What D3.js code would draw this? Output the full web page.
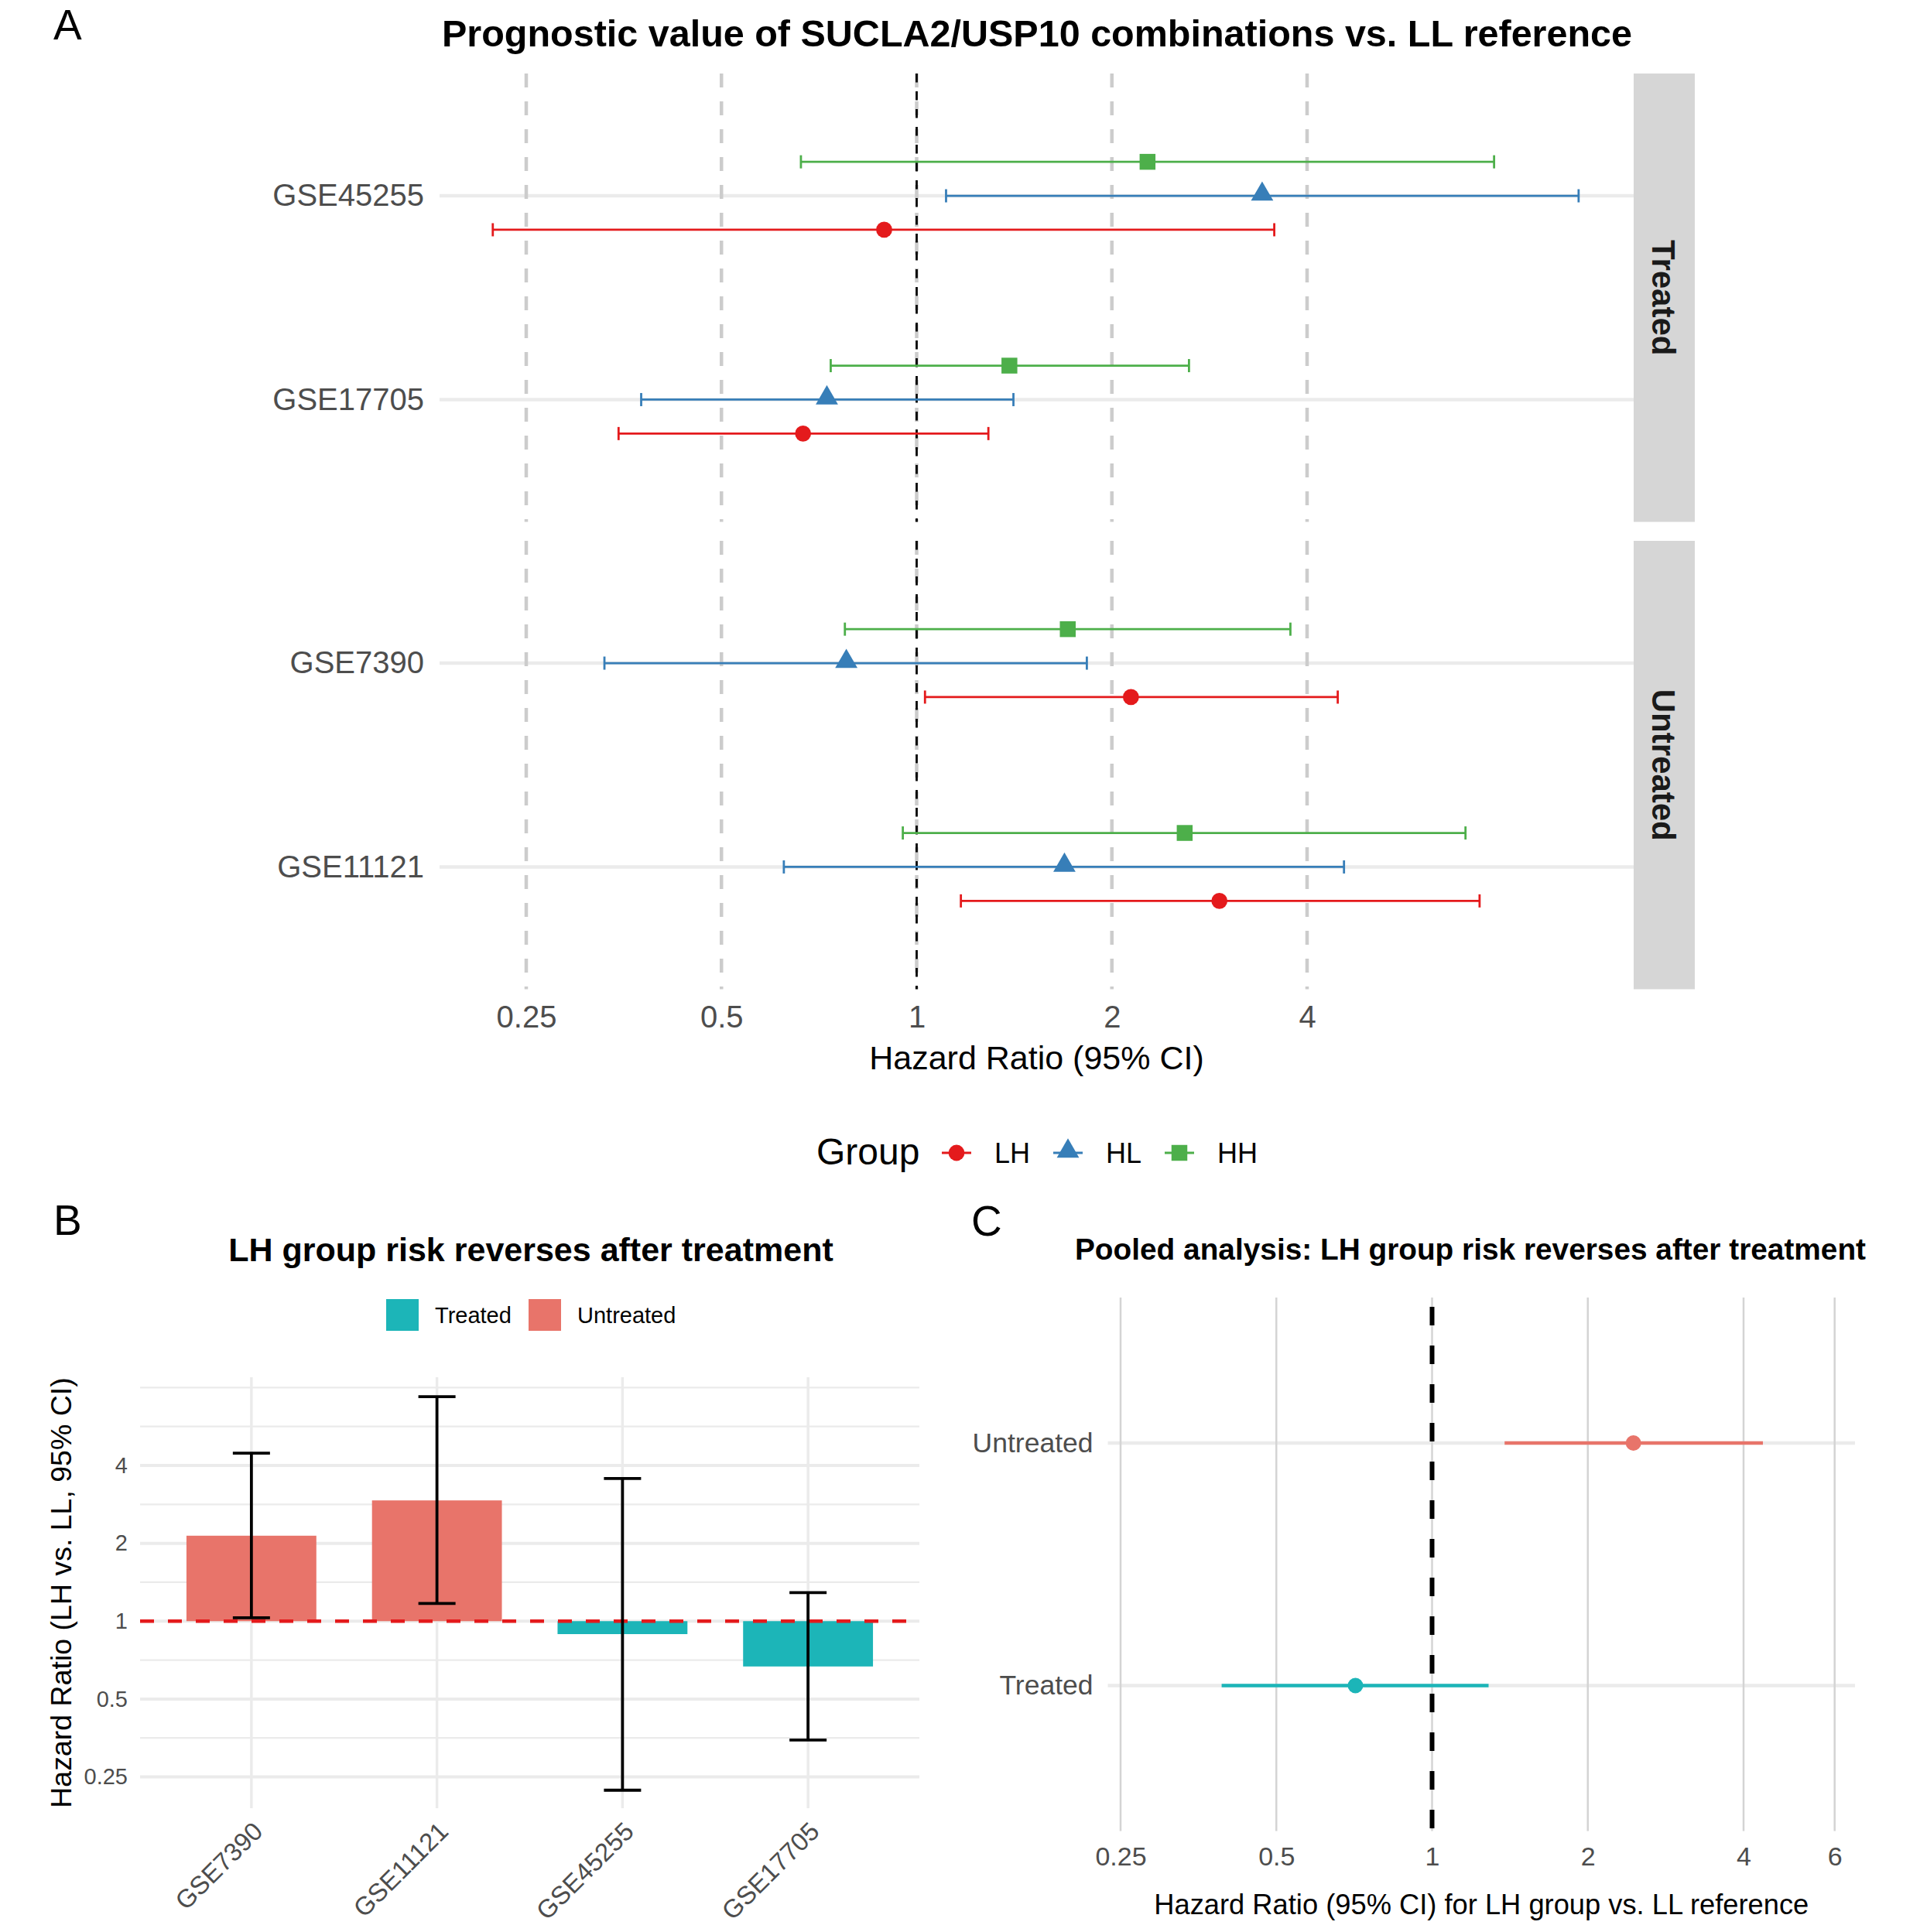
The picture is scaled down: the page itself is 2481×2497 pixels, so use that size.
<!DOCTYPE html>
<html>
<head>
<meta charset="utf-8">
<script src="https://cdn.jsdelivr.net/npm/d3@7"></script>
<style>
  body { margin: 0; background: #fff; }
  text { font-family: "Liberation Sans", Arial, Helvetica, sans-serif; }
</style>
</head>
<body>
<div id="chart"></div>
<script>
// ---- data ----
const groups = ["LH", "HL", "HH"];
const groupColors = ["#E41A1C", "#377EB8", "#4DAF4A"];

const treatedSets = ["GSE45255", "GSE17705"];
const untreatedSets = ["GSE7390", "GSE11121"];
const setsA = ["GSE45255", "GSE17705", "GSE7390", "GSE11121"];

// hazard ratios per group, same order as setsA
const lhHR = [0.891, 0.668, 2.14, 2.93];
const lhLo = [0.222, 0.347, 1.03, 1.17];
const lhHi = [3.56, 1.29, 4.46, 7.38];
const hlHR = [3.41, 0.727, 0.779, 1.69];
const hlLo = [1.11, 0.376, 0.330, 0.624];
const hlHi = [10.49, 1.41, 1.83, 4.56];
const hhHR = [2.27, 1.39, 1.71, 2.59];
const hhLo = [0.663, 0.737, 0.775, 0.952];
const hhHi = [7.77, 2.63, 3.77, 7.02];

const xTicksA = [0.25, 0.5, 1, 2, 4];

// panel B: LH vs LL per dataset
const setsB = ["GSE7390", "GSE11121", "GSE45255", "GSE17705"];
const statusB = ["Untreated", "Untreated", "Treated", "Treated"];
const hrB = [2.14, 2.93, 0.891, 0.668];
const loB = [1.03, 1.17, 0.222, 0.347];
const hiB = [4.46, 7.38, 3.56, 1.29];
const yTicksB = [0.25, 0.5, 1, 2, 4];

// panel C: pooled
const pooledCats = ["Untreated", "Treated"];
const pooledHR = [2.45, 0.711];
const pooledLo = [1.381, 0.392];
const pooledHi = [4.36, 1.286];
const xTicksC = [0.25, 0.5, 1, 2, 4, 6];

const statusColor = { Treated: "#1CB5B8", Untreated: "#E8746A" };

// ---- build rows ----
const rowsA = [];
const seriesA = { LH: [lhHR, lhLo, lhHi], HL: [hlHR, hlLo, hlHi], HH: [hhHR, hhLo, hhHi] };
setsA.forEach((s, i) => {
  groups.forEach((g, gi) => {
    rowsA.push({ set: s, group: g, gi: gi, hr: seriesA[g][0][i], lo: seriesA[g][1][i], hi: seriesA[g][2][i],
      facet: treatedSets.includes(s) ? "Treated" : "Untreated" });
  });
});

const W = 2481, H = 2497;
const svg = d3.select("#chart").append("svg")
  .attr("width", W).attr("height", H)
  .attr("viewBox", `0 0 ${W} ${H}`);
svg.append("rect").attr("width", W).attr("height", H).attr("fill", "#fff");

const grey = "#4D4D4D";

function tag(label, x, y) {
  svg.append("text").attr("x", x).attr("y", y).attr("font-size", 55).attr("fill", "#000").text(label);
}

// ================= Panel A =================
const A = { left: 568, right: 2111 };
const facets = [
  { name: "Treated", sets: treatedSets, top: 95, bottom: 674.5 },
  { name: "Untreated", sets: untreatedSets, top: 699, bottom: 1278.5 }
];
const xA = d3.scaleLog().base(2).domain([0.25, 4]).range([680, 1689]);
const shapeFor = { LH: d3.symbolCircle, HL: d3.symbolTriangle, HH: d3.symbolSquare };
const sizeFor = { LH: 340, HL: 360, HH: 420 };

facets.forEach(f => {
  const y = d3.scalePoint().domain(f.sets).range([f.top, f.bottom]).padding(0.6);
  const dodge = y.step() / 6;
  const g = svg.append("g");

  // horizontal gridlines
  g.selectAll(".hg").data(f.sets).enter().append("line")
    .attr("x1", A.left).attr("x2", A.right)
    .attr("y1", d => y(d)).attr("y2", d => y(d))
    .attr("stroke", "#EBEBEB").attr("stroke-width", 4.5);

  // vertical dashed gridlines
  g.selectAll(".vg").data(xTicksA).enter().append("line")
    .attr("x1", d => xA(d)).attr("x2", d => xA(d))
    .attr("y1", f.top).attr("y2", f.bottom)
    .attr("stroke", "#CCCCCC").attr("stroke-width", 4.5)
    .attr("stroke-dasharray", "18,18");

  // reference line
  g.append("line").attr("x1", xA(1)).attr("x2", xA(1))
    .attr("y1", f.top).attr("y2", f.bottom)
    .attr("stroke", "#000").attr("stroke-width", 2.8).attr("stroke-dasharray", "11.5,11.5");

  const rows = rowsA.filter(r => r.facet === f.name);
  const yy = r => y(r.set) + (1 - r.gi) * dodge;

  g.selectAll(".eb").data(rows).enter().append("line")
    .attr("x1", r => xA(r.lo)).attr("x2", r => xA(r.hi))
    .attr("y1", yy).attr("y2", yy)
    .attr("stroke", r => groupColors[r.gi]).attr("stroke-width", 2.8);
  ["lo", "hi"].forEach(k => {
    g.selectAll(".cap" + k).data(rows).enter().append("line")
      .attr("x1", r => xA(r[k])).attr("x2", r => xA(r[k]))
      .attr("y1", r => yy(r) - 8.5).attr("y2", r => yy(r) + 8.5)
      .attr("stroke", r => groupColors[r.gi]).attr("stroke-width", 2.8);
  });
  g.selectAll(".pt").data(rows).enter().append("path")
    .attr("d", r => d3.symbol().type(shapeFor[r.group]).size(sizeFor[r.group])())
    .attr("transform", r => `translate(${xA(r.hr)},${yy(r) + (r.group === "HL" ? -2 : 0)})`)
    .attr("fill", r => groupColors[r.gi]);

  // y axis labels
  const ax = svg.append("g").attr("transform", `translate(${A.left - 20},0)`)
    .call(d3.axisLeft(y).tickSize(0).tickPadding(0));
  ax.select(".domain").remove();
  ax.selectAll("text").attr("font-size", 40).attr("fill", grey)
    .attr("font-family", '"Liberation Sans", Arial, sans-serif');

  // strip
  svg.append("rect").attr("x", A.right).attr("y", f.top)
    .attr("width", 79).attr("height", f.bottom - f.top).attr("fill", "#D6D6D6");
  svg.append("text")
    .attr("transform", `translate(${A.right + 39.5},${(f.top + f.bottom) / 2}) rotate(90)`)
    .attr("text-anchor", "middle").attr("dy", "0.36em")
    .attr("font-size", 42).attr("font-weight", "bold").attr("fill", "#1A1A1A")
    .text(f.name);
});

// x axis A
const axA = svg.append("g").attr("transform", "translate(0,1300)")
  .call(d3.axisBottom(xA).tickValues(xTicksA).tickFormat(d3.format("")).tickSize(0).tickPadding(0));
axA.select(".domain").remove();
axA.selectAll("text").attr("font-size", 40).attr("fill", grey)
  .attr("font-family", '"Liberation Sans", Arial, sans-serif');

svg.append("text").attr("x", (A.left + A.right) / 2).attr("y", 1382)
  .attr("text-anchor", "middle").attr("font-size", 43).attr("fill", "#000")
  .text("Hazard Ratio (95% CI)");
svg.append("text").attr("x", 1340).attr("y", 60)
  .attr("text-anchor", "middle").attr("font-size", 48.5).attr("font-weight", "bold").attr("fill", "#000")
  .text("Prognostic value of SUCLA2/USP10 combinations vs. LL reference");
tag("A", 69, 51);

// group legend
const legY = 1490;
svg.append("text").attr("x", 1055).attr("y", legY + 15).attr("font-size", 48).attr("fill", "#000").text("Group");
const legX = [1236, 1380, 1524];
groups.forEach((gname, i) => {
  svg.append("line").attr("x1", legX[i] - 19).attr("x2", legX[i] + 19)
    .attr("y1", legY).attr("y2", legY).attr("stroke", groupColors[i]).attr("stroke-width", 2.8);
  svg.append("path").attr("d", d3.symbol().type(shapeFor[gname]).size(sizeFor[gname])())
    .attr("transform", `translate(${legX[i]},${legY + (gname === "HL" ? -2 : 0)})`)
    .attr("fill", groupColors[i]);
  svg.append("text").attr("x", legX[i] + 49).attr("y", legY).attr("dy", "0.36em")
    .attr("font-size", 36).attr("fill", "#000").text(gname);
});

// ================= Panel B =================
const B = { left: 181, right: 1188, top: 1780, bottom: 2337 };
const xB = d3.scalePoint().domain(setsB).range([B.left, B.right]).padding(0.6);
const yB = d3.scaleLog().base(2).domain([0.25, 4]).range([2296.5, 1894]);
const minorB = [0.3536, 0.7071, 1.4142, 2.8284, 5.6569, 8];
const gB = svg.append("g");

gB.selectAll(".mn").data(minorB).enter().append("line")
  .attr("x1", B.left).attr("x2", B.right).attr("y1", d => yB(d)).attr("y2", d => yB(d))
  .attr("stroke", "#EBEBEB").attr("stroke-width", 2.2);
gB.selectAll(".mj").data(yTicksB).enter().append("line")
  .attr("x1", B.left).attr("x2", B.right).attr("y1", d => yB(d)).attr("y2", d => yB(d))
  .attr("stroke", "#EBEBEB").attr("stroke-width", 4);
gB.selectAll(".vx").data(setsB).enter().append("line")
  .attr("x1", d => xB(d)).attr("x2", d => xB(d)).attr("y1", B.top).attr("y2", B.bottom)
  .attr("stroke", "#EBEBEB").attr("stroke-width", 3.5);

const barW = xB.step() * 0.7;
gB.selectAll(".bar").data(setsB).enter().append("rect")
  .attr("x", d => xB(d) - barW / 2).attr("width", barW)
  .attr("y", (d, i) => Math.min(yB(hrB[i]), yB(1)))
  .attr("height", (d, i) => Math.abs(yB(hrB[i]) - yB(1)))
  .attr("fill", (d, i) => statusColor[statusB[i]]);

gB.append("line").attr("x1", B.left).attr("x2", B.right).attr("y1", yB(1)).attr("y2", yB(1))
  .attr("stroke", "#E41A1C").attr("stroke-width", 4.5).attr("stroke-dasharray", "18,18");

gB.selectAll(".ebv").data(setsB).enter().append("line")
  .attr("x1", d => xB(d)).attr("x2", d => xB(d))
  .attr("y1", (d, i) => yB(loB[i])).attr("y2", (d, i) => yB(hiB[i]))
  .attr("stroke", "#000").attr("stroke-width", 3.8);
[loB, hiB].forEach(arr => {
  gB.selectAll(null).data(setsB).enter().append("line")
    .attr("x1", d => xB(d) - 24).attr("x2", d => xB(d) + 24)
    .attr("y1", (d, i) => yB(arr[i])).attr("y2", (d, i) => yB(arr[i]))
    .attr("stroke", "#000").attr("stroke-width", 3.8);
});

const ayB = svg.append("g").attr("transform", `translate(${B.left - 16},0)`)
  .call(d3.axisLeft(yB).tickValues(yTicksB).tickFormat(d3.format("")).tickSize(0).tickPadding(0));
ayB.select(".domain").remove();
ayB.selectAll("text").attr("font-size", 29).attr("fill", grey)
  .attr("font-family", '"Liberation Sans", Arial, sans-serif');

const axB = svg.append("g").attr("transform", `translate(0,${B.bottom + 18})`)
  .call(d3.axisBottom(xB).tickSize(0).tickPadding(0));
axB.select(".domain").remove();
axB.selectAll("text").attr("font-size", 33).attr("fill", grey)
  .attr("font-family", '"Liberation Sans", Arial, sans-serif')
  .attr("text-anchor", "end").attr("dy", "0.6em")
  .attr("transform", "translate(2,0) rotate(-45)");

svg.append("text").attr("transform", `translate(92,${(B.top + B.bottom) / 2}) rotate(-90)`)
  .attr("text-anchor", "middle").attr("font-size", 37.5).attr("fill", "#000")
  .text("Hazard Ratio (LH vs. LL, 95% CI)");
svg.append("text").attr("x", 686).attr("y", 1630).attr("text-anchor", "middle")
  .attr("font-size", 43).attr("font-weight", "bold").attr("fill", "#000")
  .text("LH group risk reverses after treatment");
tag("B", 69, 1596);

// legend B
const legB = [{ k: "Treated", x: 499 }, { k: "Untreated", x: 683 }];
legB.forEach(l => {
  svg.append("rect").attr("x", l.x).attr("y", 1679).attr("width", 42).attr("height", 41)
    .attr("fill", statusColor[l.k]);
  svg.append("text").attr("x", l.x + 63).attr("y", 1700).attr("dy", "0.36em")
    .attr("font-size", 29).attr("fill", "#000").text(l.k);
});

// ================= Panel C =================
const C = { left: 1431.5, right: 2397, top: 1677, bottom: 2366.5 };
const xC = d3.scaleLog().base(2).domain([0.25, 4]).range([1448, 2253]);
const yC = d3.scalePoint().domain(pooledCats).range([C.top, C.bottom]).padding(0.6);
const gC = svg.append("g");

gC.selectAll(".hc").data(pooledCats).enter().append("line")
  .attr("x1", C.left).attr("x2", C.right).attr("y1", d => yC(d)).attr("y2", d => yC(d))
  .attr("stroke", "#EBEBEB").attr("stroke-width", 4.5);
gC.selectAll(".vc").data(xTicksC).enter().append("line")
  .attr("x1", d => xC(d)).attr("x2", d => xC(d)).attr("y1", C.top).attr("y2", C.bottom)
  .attr("stroke", "#D4D4D4").attr("stroke-width", 2.5);
gC.append("line").attr("x1", xC(1)).attr("x2", xC(1)).attr("y1", C.top + 12).attr("y2", C.bottom)
  .attr("stroke", "#000").attr("stroke-width", 6).attr("stroke-dasharray", "24,26");

gC.selectAll(".ec").data(pooledCats).enter().append("line")
  .attr("x1", (d, i) => xC(pooledLo[i])).attr("x2", (d, i) => xC(pooledHi[i]))
  .attr("y1", d => yC(d)).attr("y2", d => yC(d))
  .attr("stroke", d => statusColor[d]).attr("stroke-width", 4.5);
gC.selectAll(".pc").data(pooledCats).enter().append("circle")
  .attr("cx", (d, i) => xC(pooledHR[i])).attr("cy", d => yC(d)).attr("r", 10)
  .attr("fill", d => statusColor[d]);

const axC = svg.append("g").attr("transform", `translate(0,${C.bottom + 20})`)
  .call(d3.axisBottom(xC).tickValues(xTicksC).tickFormat(d3.format("")).tickSize(0).tickPadding(0));
axC.select(".domain").remove();
axC.selectAll("text").attr("font-size", 34).attr("fill", grey)
  .attr("font-family", '"Liberation Sans", Arial, sans-serif');

const ayC = svg.append("g").attr("transform", `translate(${C.left - 19},0)`)
  .call(d3.axisLeft(yC).tickSize(0).tickPadding(0));
ayC.select(".domain").remove();
ayC.selectAll("text").attr("font-size", 35.5).attr("fill", grey)
  .attr("font-family", '"Liberation Sans", Arial, sans-serif');

svg.append("text").attr("x", (C.left + C.right) / 2).attr("y", 2474).attr("text-anchor", "middle")
  .attr("font-size", 36.3).attr("fill", "#000")
  .text("Hazard Ratio (95% CI) for LH group vs. LL reference");
svg.append("text").attr("x", 1900).attr("y", 1628).attr("text-anchor", "middle")
  .attr("font-size", 38.8).attr("font-weight", "bold").attr("fill", "#000")
  .text("Pooled analysis: LH group risk reverses after treatment");
tag("C", 1255, 1597);
</script>
</body>
</html>
